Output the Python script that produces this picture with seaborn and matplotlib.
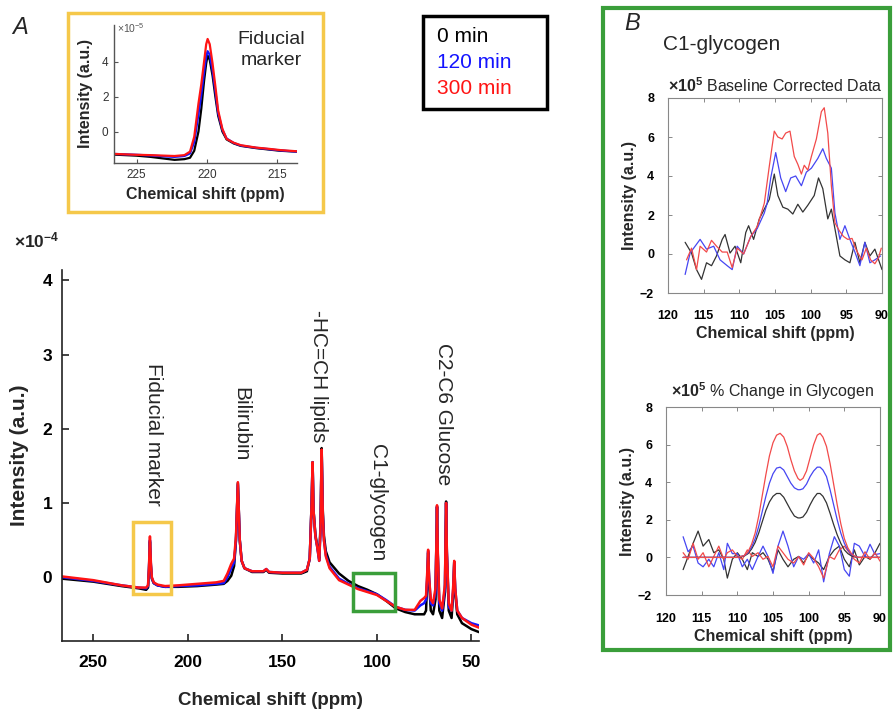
import matplotlib
matplotlib.use("Agg")
import matplotlib.pyplot as plt
import seaborn as sns
from matplotlib.patches import Rectangle

# ---------------- data: main 13C spectrum (x 1e-4 a.u.) ----------------
main_ppm = [266.5, 250, 235, 226, 222, 221, 220.5, 220.0, 219.5, 219,
            218, 216, 212, 205, 195, 185, 181, 179, 177, 175.5,
            174.5, 173.5, 172.5, 171.5, 170, 166, 160, 158.5, 157, 150,
            140, 137, 135.5, 134.5, 134.0, 133.5, 132.5, 131.5, 130.5, 129.8,
            129.2, 128.6, 128, 127, 125, 120, 115, 110, 105, 100,
            95, 90, 85, 80, 77, 75, 74, 73.3, 72.9, 72.4,
            71.5, 70.3, 69, 68.5, 68.2, 67.8, 67, 65.5, 64, 63.7,
            63.4, 63.0, 62, 60.5, 59.6, 59.1, 58.6, 57.5, 55, 50, 46]
main_0min = [-0.02, -0.06, -0.12, -0.15, -0.17, -0.14, 0.10, 0.48, 0.15, -0.02,
             -0.08, -0.11, -0.13, -0.13, -0.12, -0.10, -0.09, -0.05, 0.02, 0.15,
             0.50, 1.27, 0.50, 0.22, 0.12, 0.07, 0.07, 0.10, 0.06, 0.05,
             0.05, 0.08, 0.25, 1.00, 1.55, 0.90, 0.57, 0.42, 0.25, 0.70,
             1.74, 0.90, 0.56, 0.35, 0.20, 0.05, -0.05, -0.12, -0.17, -0.23,
             -0.32, -0.42, -0.47, -0.50, -0.50, -0.50, -0.45, 0.00, 0.33, -0.05,
             -0.45, -0.50, -0.30, 0.50, 0.95, 0.30, -0.45, -0.55, -0.20, 0.50,
             1.02, 0.30, -0.45, -0.55, -0.20, 0.20, -0.20, -0.50, -0.62, -0.70, -0.74]
main_120min = [0.00, -0.05, -0.11, -0.14, -0.15, -0.12, 0.12, 0.50, 0.17, -0.01,
               -0.08, -0.11, -0.13, -0.12, -0.11, -0.09, -0.08, 0.00, 0.12, 0.20,
               0.50, 1.25, 0.50, 0.22, 0.12, 0.08, 0.08, 0.11, 0.07, 0.06,
               0.06, 0.10, 0.25, 1.00, 1.55, 0.90, 0.55, 0.40, 0.22, 0.65,
               1.70, 0.85, 0.50, 0.30, 0.14, -0.02, -0.09, -0.15, -0.19, -0.23,
               -0.31, -0.40, -0.44, -0.45, -0.38, -0.35, -0.30, 0.05, 0.35, 0.00,
               -0.35, -0.38, -0.20, 0.50, 0.95, 0.30, -0.35, -0.45, -0.15, 0.50,
               1.00, 0.35, -0.40, -0.45, -0.15, 0.20, -0.15, -0.45, -0.55, -0.62, -0.65]
main_300min = [0.01, -0.04, -0.11, -0.14, -0.14, -0.11, 0.14, 0.55, 0.19, 0.00,
               -0.07, -0.10, -0.12, -0.11, -0.09, -0.07, -0.05, 0.05, 0.18, 0.25,
               0.55, 1.28, 0.50, 0.22, 0.12, 0.08, 0.08, 0.11, 0.07, 0.06,
               0.06, 0.10, 0.25, 1.00, 1.55, 0.90, 0.55, 0.40, 0.22, 0.65,
               1.72, 0.85, 0.50, 0.28, 0.12, -0.04, -0.10, -0.16, -0.20, -0.24,
               -0.32, -0.40, -0.44, -0.44, -0.32, -0.28, -0.25, 0.10, 0.37, 0.00,
               -0.30, -0.35, -0.15, 0.50, 0.97, 0.35, -0.30, -0.42, -0.10, 0.50,
               1.00, 0.35, -0.35, -0.45, -0.10, 0.22, -0.15, -0.45, -0.55, -0.64, -0.68]

peak_labels = ["Fiducial marker", "Bilirubin", "-HC=CH lipids", "C1-glycogen", "C2-C6 Glucose"]
peak_label_ppm = [218.3, 172.2, 131.0, 99.7, 64.8]
peak_label_top = [2.88, 2.56, 3.60, 1.80, 3.15]

# ---------------- data: fiducial inset (x 1e-5 a.u.) ----------------
ins_ppm = [226.6, 225, 224, 223, 222.3, 221.6, 221.2, 220.9, 220.6, 220.4,
           220.2, 220.05, 219.95, 219.8, 219.6, 219.4, 219.2, 218.9, 218.6, 218.1,
           217.6, 216.5, 215.7, 214.8, 213.6]
ins_0min = [-1.32, -1.38, -1.45, -1.55, -1.62, -1.58, -1.50, -1.1, 0.0, 1.3,
            2.9, 3.9, 4.35, 4.1, 3.2, 2.0, 0.9, 0.0, -0.45, -0.68,
            -0.82, -0.95, -1.02, -1.10, -1.15]
ins_120min = [-1.28, -1.33, -1.37, -1.42, -1.45, -1.40, -1.25, -0.6, 1.0, 2.1,
              3.4, 4.3, 4.6, 4.4, 3.5, 2.3, 1.05, 0.1, -0.40, -0.65,
              -0.80, -0.93, -1.00, -1.08, -1.15]
ins_300min = [-1.28, -1.33, -1.35, -1.38, -1.40, -1.35, -1.15, -0.3, 1.6, 2.7,
              4.0, 5.0, 5.3, 5.0, 3.9, 2.6, 1.2, 0.15, -0.42, -0.64,
              -0.78, -0.92, -0.98, -1.06, -1.13]

# ---------------- data: panel B, baseline corrected ----------------
bc_ppm_0 = [117.6, 116.7, 116.0, 115.3, 114.6, 113.9, 113.2, 112.4, 112.0, 111.3,
            110.6, 109.8, 109.1, 108.7, 108.0, 107.2, 106.5, 105.8, 105.1, 104.6,
            103.9, 103.2, 102.5, 101.8, 101.1, 100.4, 99.5, 98.9, 98.3, 97.6,
            97.1, 96.6, 95.9, 95.2, 94.5, 93.8, 93.1, 92.4, 91.7, 91.0, 90.0]
bc_0min = [0.6, 0.05, -0.8, -1.3, -0.45, -0.6, -0.1, 0.75, 1.0, 0.05,
           0.4, -0.45, 1.1, 1.45, 0.75, 1.8, 2.3, 2.8, 4.1, 3.0,
           2.4, 2.3, 2.05, 2.55, 2.15, 2.5, 3.0, 3.9, 3.35, 1.8,
           2.3, 1.3, -0.1, -0.3, -0.45, 0.6, -0.45, 0.6, -0.1, 0.25, -0.8]
bc_ppm_120 = [117.6, 116.9, 116.2, 115.5, 114.6, 113.6, 112.7, 111.7, 111.0, 110.3,
              109.4, 108.4, 107.5, 106.5, 106.1, 105.6, 104.9, 104.2, 103.5, 102.8,
              102.1, 101.3, 100.6, 99.9, 99.0, 98.3, 97.8, 97.1, 96.6, 95.9,
              95.2, 94.5, 93.8, 93.1, 92.4, 91.7, 91.0, 90.2]
bc_120min = [-1.05, 0.05, 0.4, 0.75, 0.25, 0.4, -0.3, -0.6, -0.8, 0.4,
             0.0, 0.9, 1.3, 2.1, 2.6, 3.9, 5.2, 3.9, 3.2, 3.9,
             4.0, 3.5, 4.2, 4.4, 4.9, 5.4, 4.9, 4.4, 2.1, 0.75,
             1.45, 0.75, 0.1, -0.6, 0.6, -0.45, -0.3, -0.1]
bc_ppm_300 = [117.4, 116.7, 116.0, 115.5, 114.6, 113.9, 113.2, 112.4, 111.7, 111.0,
              110.3, 109.4, 108.4, 107.5, 106.5, 105.8, 105.1, 104.6, 104.0, 103.5,
              102.9, 102.3, 101.8, 101.3, 100.9, 100.4, 99.9, 99.2, 98.5, 98.1,
              97.6, 97.1, 96.6, 96.0, 95.4, 94.8, 94.2, 93.6, 93.3, 92.8,
              92.2, 91.6, 91.0, 90.5, 90.1]
bc_300min = [-0.3, 0.3, -0.8, 0.4, 0.1, 0.7, 0.4, 0.1, 0.1, -0.7,
             0.3, 0.0, 0.9, 1.4, 2.6, 4.5, 6.3, 6.0, 5.9, 6.2,
             6.3, 5.0, 4.6, 4.1, 4.55, 4.3, 5.0, 5.9, 7.3, 7.5,
             6.2, 3.5, 1.6, 1.2, 0.9, 0.75, 0.8, 0.2, 0.0, -0.3,
             0.3, -0.3, -0.5, -0.2, 0.3]

# ---------------- data: panel B, % change in glycogen (fits + residuals) ----------------
fit_ppm = [117.6, 110, 109, 108.5, 108, 107.5, 107, 106.5, 106, 105.5,
           105, 104.5, 104, 103.5, 103, 102.5, 102, 101.5, 101.2, 100.8,
           100.3, 99.8, 99.3, 98.8, 98.4, 98, 97.5, 97, 96.5, 96,
           95.5, 95, 94.5, 94, 93.5, 93, 90]
fit_0min = [0, 0, 0.08, 0.2, 0.45, 0.8, 1.3, 1.9, 2.5, 2.95,
            3.25, 3.4, 3.4, 3.2, 2.85, 2.5, 2.2, 2.1, 2.1, 2.15,
            2.4, 2.8, 3.15, 3.4, 3.4, 3.25, 2.9, 2.35, 1.75, 1.2,
            0.75, 0.4, 0.2, 0.08, 0.02, 0, 0]
fit_120min = [0, 0, 0.1, 0.25, 0.55, 1.0, 1.65, 2.45, 3.25, 3.95,
              4.45, 4.75, 4.8, 4.65, 4.3, 3.95, 3.7, 3.6, 3.6, 3.65,
              3.9, 4.3, 4.6, 4.8, 4.8, 4.65, 4.3, 3.6, 2.8, 2.0,
              1.3, 0.75, 0.4, 0.15, 0.05, 0, 0]
fit_300min = [0, 0, 0.1, 0.3, 0.7, 1.3, 2.2, 3.3, 4.4, 5.4,
              6.1, 6.5, 6.6, 6.4, 5.9, 5.2, 4.6, 4.2, 4.1, 4.2,
              4.6, 5.3, 6.0, 6.5, 6.6, 6.4, 5.9, 5.0, 3.9, 2.8,
              1.8, 1.0, 0.5, 0.2, 0.05, 0, 0]
res_ppm = [117.6, 116.9, 116.2, 115.5, 114.8, 114.0, 113.3, 112.6, 111.9, 111.4,
           110.7, 110.0, 109.3, 108.6, 107.9, 107.1, 106.4, 105.7, 105.0, 104.3,
           103.6, 102.9, 102.1, 101.4, 100.7, 100.0, 99.3, 98.6, 97.9, 97.1,
           96.4, 95.7, 95.0, 94.3, 93.6, 92.9, 92.1, 91.4, 90.7, 90.0]
res_0min = [-0.65, 0.05, 0.75, 1.4, 0.6, 0.95, 0.25, 0.4, -0.1, -1.1,
            -0.1, 0.25, -0.1, -0.65, 0.25, 0.05, 0.25, -0.1, -0.75, 0.4,
            -0.1, -0.5, -0.1, 0.05, -0.3, 0.15, -0.1, -0.3, -0.65, 0.05,
            0.4, 0.6, -0.1, -0.5, 0.4, -0.4, 0.05, -0.1, 0.25, 0.75]
res_120min = [1.1, 0.3, 0.6, -0.3, -0.5, -0.1, -0.5, 0.25, -0.65, 0.75,
              0.2, 0.2, -0.5, -0.1, -0.65, 0.05, 0.6, 0.05, -0.85, 0.6,
              1.4, 0.6, -0.5, 0.05, -0.1, 0.2, -0.3, 0.4, -1.3, 0.2,
              1.1, 0.6, -0.65, -1.0, 0.75, 0.6, 0.05, 0.7, 0.15, 0.2]
res_300min = [0.25, -0.1, 0.75, -0.1, 0.25, -0.5, 0.05, 0.6, -0.1, 0.25,
              0.4, 0.05, -0.1, 0.4, 0.05, 0.25, -0.1, 0.05, -0.5, 0.6,
              0.25, -0.1, -0.3, 0.05, -0.4, 0.25, -0.05, -0.5, -1.1, 0.05,
              -0.1, 0.4, 0.6, 0.25, -0.1, -0.3, 0.3, -0.1, 0.25, -0.2]

series_names = ["0 min", "120 min", "300 min"]
colors_A = ["#000000", "#1414ff", "#ff1414"]
colors_B = ["#333333", "#4646f2", "#f24a4a"]

# ---------------- style ----------------
sns.set_theme(style="ticks")
plt.rcParams['font.family'] = ['Liberation Sans', 'DejaVu Sans']
plt.rcParams['mathtext.fontset'] = 'custom'
plt.rcParams['mathtext.rm'] = 'Liberation Sans'
plt.rcParams['mathtext.bf'] = 'Liberation Sans:bold'
plt.rcParams['mathtext.it'] = 'Liberation Sans:italic'

W, H = 893, 710
fig = plt.figure(figsize=(W / 100, H / 100), dpi=100)


def rect(l, t, r, b):
    return [l / W, 1 - b / H, (r - l) / W, (b - t) / H]


def draw(ax, x, y, color, lw):
    sns.lineplot(x=x, y=y, ax=ax, color=color, linewidth=lw,
                 estimator=None, sort=False, legend=False)


def bold_ticks(ax):
    for lab in ax.get_xticklabels() + ax.get_yticklabels():
        lab.set_fontweight('bold')


# ---------------- main panel A ----------------
ax = fig.add_axes(rect(62, 270, 479, 641))
for ys, c in zip([main_0min, main_120min, main_300min], colors_A):
    draw(ax, main_ppm, ys, c, 1.8)
ax.set_xlim(266.5, 46)
ax.set_ylim(-0.86, 4.14)
ax.set_xticks([250, 200, 150, 100, 50])
ax.set_yticks([0, 1, 2, 3, 4])
sns.despine(ax=ax)
for s in ['left', 'bottom']:
    ax.spines[s].set_linewidth(1.2)
    ax.spines[s].set_color('#222222')
ax.tick_params(axis='both', direction='in', length=5, width=1.2, labelsize=12.5,
               colors='#222222', labelcolor='black')
ax.tick_params(axis='x', pad=10)
ax.tick_params(axis='y', pad=7)
bold_ticks(ax)
ax.set_xlabel("Chemical shift (ppm)", fontsize=13.5, fontweight='bold', labelpad=16)
ax.set_ylabel("Intensity (a.u.)", fontsize=15, fontweight='bold', labelpad=10)
for lab, px, top in zip(peak_labels, peak_label_ppm, peak_label_top):
    ax.text(px, top, lab, rotation=-90, ha='center', va='top', fontsize=15)
ax.add_patch(Rectangle((208.7, -0.23), 20.1, 0.97, fill=False,
                       edgecolor='#f5c84a', linewidth=2.5, zorder=5))
ax.add_patch(Rectangle((90.2, -0.46), 22.2, 0.51, fill=False,
                       edgecolor='#3a9e3a', linewidth=2.5, zorder=5))
fig.text(14 / W, 1 - 240 / H, r"$\mathbf{\times10^{-4}}$", fontsize=12.5,
         va='center', ha='left')
fig.text(12 / W, 1 - 28 / H, "A", fontsize=17, style='italic', va='center')

# ---------------- fiducial inset ----------------
axi = fig.add_axes(rect(114, 25, 297, 163))
for ys, c in zip([ins_0min, ins_120min, ins_300min], colors_A):
    draw(axi, ins_ppm, ys, c, 1.6)
axi.set_xlim(226.6, 213.6)
axi.set_ylim(-1.8, 6.1)
axi.set_xticks([225, 220, 215])
axi.set_yticks([0, 2, 4])
sns.despine(ax=axi)
for s in ['left', 'bottom']:
    axi.spines[s].set_linewidth(1.0)
    axi.spines[s].set_color('#555555')
axi.tick_params(axis='both', direction='in', length=3, width=0.8, labelsize=8.5,
                colors='#555555', labelcolor='#333333', pad=4)
axi.set_xlabel("Chemical shift (ppm)", fontsize=11.5, fontweight='bold', labelpad=5)
axi.set_ylabel("Intensity (a.u.)", fontsize=11.5, fontweight='bold', labelpad=6)
fig.text(117 / W, 1 - 28 / H, r"$\times10^{-5}$", fontsize=7.5, color='#555555',
         va='center', ha='left')
fig.text(271 / W, 1 - 50 / H, "Fiducial\nmarker", fontsize=14, ha='center',
         va='center', linespacing=1.25)
fig.add_artist(Rectangle((68 / W, 1 - 212 / H), 255 / W, 199 / H, fill=False,
                         edgecolor='#f5c84a', linewidth=2.5,
                         transform=fig.transFigure))

# ---------------- legend box ----------------
fig.add_artist(Rectangle((423 / W, 1 - 109 / H), 124 / W, 93 / H, fill=False,
                         edgecolor='black', linewidth=2.5,
                         transform=fig.transFigure))
for name, c, yy in zip(series_names, colors_A, [37, 63, 88]):
    fig.text(437 / W, 1 - yy / H, name, color=c, fontsize=15, va='center', ha='left')

# ---------------- panel B ----------------
fig.add_artist(Rectangle((603 / W, 1 - 650 / H), 287 / W, 642 / H, fill=False,
                         edgecolor='#3a9e3a', linewidth=3,
                         transform=fig.transFigure))
fig.text(624 / W, 1 - 24 / H, "B", fontsize=17, style='italic', va='center')
fig.text(663 / W, 1 - 44 / H, "C1-glycogen", fontsize=15, va='center', ha='left')


def style_b(axb, title, title_pad, xpad):
    axb.set_xlim(120, 90)
    axb.set_ylim(-2, 8)
    axb.set_xticks([120, 115, 110, 105, 100, 95, 90])
    axb.set_yticks([-2, 0, 2, 4, 6, 8])
    for s in axb.spines.values():
        s.set_visible(True)
        s.set_linewidth(0.8)
        s.set_color('#888888')
    axb.tick_params(axis='both', direction='in', length=3, width=0.7,
                    top=True, right=True, labelsize=9,
                    colors='#888888', labelcolor='black')
    axb.tick_params(axis='x', pad=xpad)
    axb.tick_params(axis='y', pad=10)
    bold_ticks(axb)
    axb.set_title(title, fontsize=11.5, pad=title_pad)
    axb.set_xlabel("Chemical shift (ppm)", fontsize=11.5, fontweight='bold', labelpad=3)
    axb.set_ylabel("Intensity (a.u.)", fontsize=11.5, fontweight='bold', labelpad=2)


axb1 = fig.add_axes(rect(668, 98, 882, 293))
for xs, ys, c in zip([bc_ppm_0, bc_ppm_120, bc_ppm_300],
                     [bc_0min, bc_120min, bc_300min], colors_B):
    draw(axb1, xs, ys, c, 0.9)
style_b(axb1, r"$\mathbf{\times10^5}$ Baseline Corrected Data", 4, 12)

axb2 = fig.add_axes(rect(666, 407, 880, 595))
for ys, c in zip([res_0min, res_120min, res_300min], colors_B):
    draw(axb2, res_ppm, ys, c, 0.9)
for ys, c in zip([fit_0min, fit_120min, fit_300min], colors_B):
    draw(axb2, fit_ppm, ys, c, 0.9)
style_b(axb2, r"$\mathbf{\times10^5}$ % Change in Glycogen", 7, 13)

fig.savefig("out.png", dpi=100)
